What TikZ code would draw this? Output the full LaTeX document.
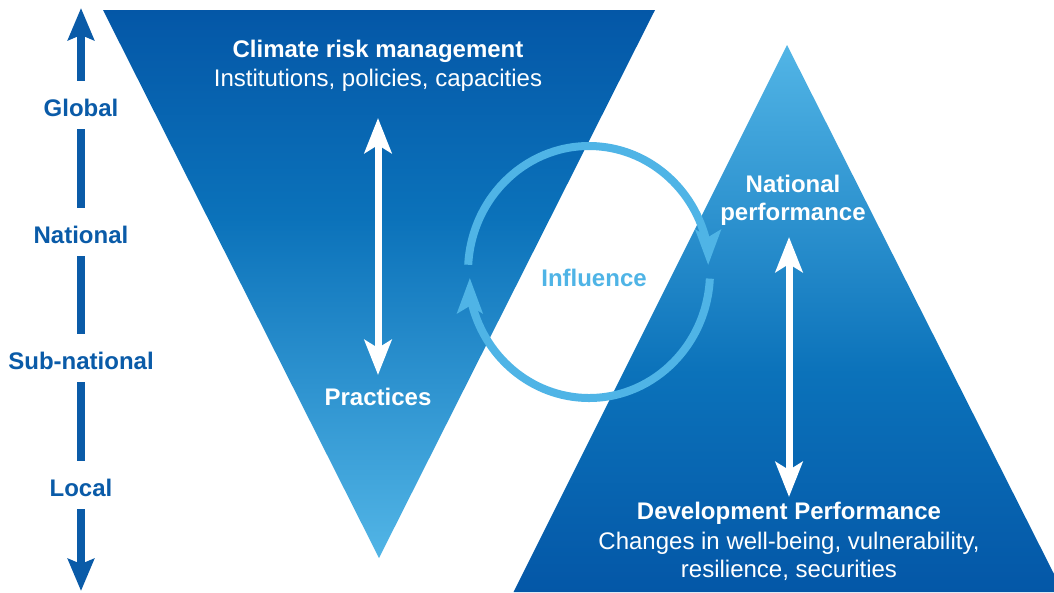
\documentclass[tikz,border=0pt]{standalone}
\usepackage{fontspec}
\setmainfont{Liberation Sans}
\usetikzlibrary{arrows.meta}
\definecolor{darkB}{HTML}{0457A7}
\definecolor{midB}{HTML}{0B72BA}
\definecolor{lightB}{HTML}{52B5E6}
\definecolor{labelB}{HTML}{0A5BA8}
\definecolor{loopB}{HTML}{4FB4E6}
\pgfdeclareverticalshading{lefttri}{100bp}{color(0bp)=(lightB); color(25bp)=(lightB); color(56bp)=(midB); color(75bp)=(darkB); color(100bp)=(darkB)}
\pgfdeclareverticalshading{righttri}{100bp}{color(0bp)=(darkB); color(25bp)=(darkB); color(45bp)=(midB); color(75bp)=(lightB); color(100bp)=(lightB)}
\begin{document}
\begin{tikzpicture}[x=1pt,y=-1pt,
  lvl/.style={font=\fontsize{24}{28}\selectfont\bfseries, text=labelB, inner sep=0pt, text height=17pt, text depth=0pt, anchor=base},
  boldw/.style={font=\fontsize{24}{28}\selectfont\bfseries, text=white, inner sep=0pt, anchor=base},
  lightw/.style={font=\fontsize{24}{28}\selectfont, text=white, inner sep=0pt, anchor=base},
  axisline/.style={draw=labelB, line width=8pt},
  axishead/.style={-{Stealth[length=32pt,width=26pt,inset=5pt]}},
  dblarrow/.style={draw=white, line width=7pt, {Stealth[length=35pt,width=27pt,inset=8pt]}-{Stealth[length=35pt,width=27pt,inset=8pt]}},
  loopline/.style={draw=loopB, line width=8pt, -{Stealth[length=35pt,width=25pt,inset=7pt]}}
]
\useasboundingbox[fill=white] (0,0) rectangle (1054,592);

% triangles
\shade[shading=lefttri] (103,10) -- (655,10) -- (379,558) -- cycle;
\shade[shading=righttri] (787,45) -- (1054,574) -- (1054,592) -- (513.5,592) -- cycle;

% left scale
\node[lvl] (glob) at (81,116) {Global};
\node[lvl] (nat) at (81,243) {National};
\node[lvl] (sub) at (81,369) {Sub-national};
\node[lvl] (loc) at (81,496) {Local};
\coordinate (ttip) at (81,8);
\coordinate (btip) at (81,591);
\draw[axisline, axishead, shorten <=18pt] (glob.north) -- (ttip);
\draw[axisline, shorten <=13pt, shorten >=18pt] (glob.south) -- (nat.north);
\draw[axisline, shorten <=13pt, shorten >=18pt] (nat.south) -- (sub.north);
\draw[axisline, shorten <=13pt, shorten >=18pt] (sub.south) -- (loc.north);
\draw[axisline, axishead, shorten <=13pt] (loc.south) -- (btip);

% left triangle texts
\node[boldw] (crm) at (378,57) {Climate risk management};
\node[lightw] (inst) at (378,86) {Institutions, policies, capacities};
\node[boldw] (prac) at (378,405) {Practices};
\coordinate (la1) at (378,118);
\coordinate (la2) at (378,375);
\draw[dblarrow] (la1) -- (la2);

% right triangle texts
\node[boldw] (nat1) at (793,192) {National};
\node[boldw] (nat2) at (793,220) {performance};
\coordinate (ra1) at (789,237);
\coordinate (ra2) at (789,497);
\draw[dblarrow] (ra1) -- (ra2);
\node[boldw] (dev) at (789,519) {Development Performance};
\node[lightw] (ch1) at (789,549) {Changes in well-being, vulnerability,};
\node[lightw] (ch2) at (789,577) {resilience, securities};

% influence loop
\coordinate (loopc) at (589,272);
\node[font=\fontsize{24}{28}\selectfont\bfseries, text=loopB, inner sep=0pt, anchor=base] (infl) at (594,286) {Influence};
\draw[loopline] ([shift={(183.3:121 and 126)}]loopc) arc[start angle=183.3, end angle=350, x radius=121, y radius=126] -- ++(0,15);
\draw[loopline] ([shift={(3:121 and 126)}]loopc) arc[start angle=3, end angle=170, x radius=121, y radius=126] -- ++(0,-16);
\end{tikzpicture}
\end{document}
